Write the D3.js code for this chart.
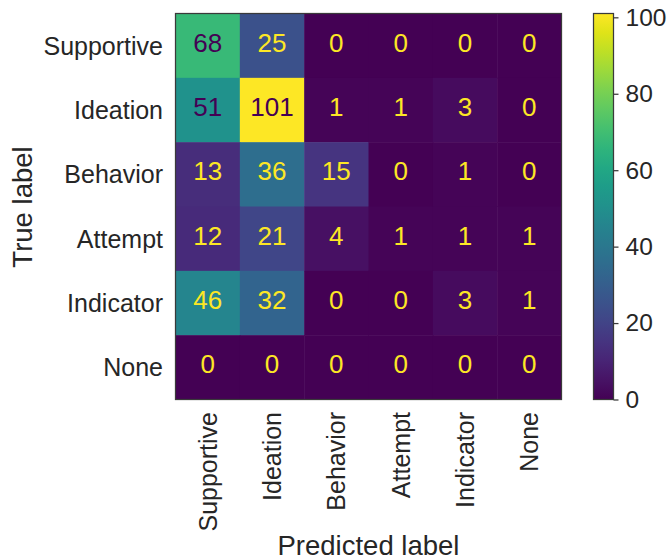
<!DOCTYPE html>
<html>
<head>
<meta charset="utf-8">
<script src="https://cdn.jsdelivr.net/npm/d3@7"></script>
<style>
  body { margin: 0; background: #fff; }
  text { font-family: "Liberation Sans", Arial, sans-serif; fill: #262626; }
</style>
</head>
<body>
<div id="chart"></div>
<script>
// Class labels (rows = true, columns = predicted)
const labels = ["Supportive", "Ideation", "Behavior", "Attempt", "Indicator", "None"];

// Confusion matrix counts, one row per true label
const rowSupportive = [68, 25, 0, 0, 0, 0];
const rowIdeation   = [51, 101, 1, 1, 3, 0];
const rowBehavior   = [13, 36, 15, 0, 1, 0];
const rowAttempt    = [12, 21, 4, 1, 1, 1];
const rowIndicator  = [46, 32, 0, 0, 3, 1];
const rowNone       = [0, 0, 0, 0, 0, 0];

const colorbarTicks = [0, 20, 40, 60, 80, 100];

const matrix = [rowSupportive, rowIdeation, rowBehavior, rowAttempt, rowIndicator, rowNone];

const cells = [];
matrix.forEach((row, i) => row.forEach((v, j) => cells.push({ t: labels[i], p: labels[j], v: v })));

const width = 668, height = 560;
const grid = { left: 175.5, top: 13.5, size: 386 };

const svg = d3.select("#chart")
    .append("svg")
    .attr("width", width)
    .attr("height", height);

// Scales
const x = d3.scaleBand().domain(labels).range([grid.left, grid.left + grid.size]);
const y = d3.scaleBand().domain(labels).range([grid.top, grid.top + grid.size]);

const vmin = d3.min(cells, d => d.v), vmax = d3.max(cells, d => d.v);
const color = d3.scaleSequential(d3.interpolateViridis).domain([vmin, vmax]);
const thresh = (vmin + vmax) / 2;

// Cells
svg.selectAll("rect.cell")
    .data(cells)
    .enter()
    .append("rect")
    .attr("class", "cell")
    .attr("x", d => x(d.p))
    .attr("y", d => y(d.t))
    .attr("width", x.bandwidth() + 0.5)
    .attr("height", y.bandwidth() + 0.5)
    .attr("fill", d => color(d.v));

// Cell values
svg.selectAll("text.val")
    .data(cells)
    .enter()
    .append("text")
    .attr("class", "val")
    .attr("x", d => x(d.p) + x.bandwidth() / 2)
    .attr("y", d => y(d.t) + y.bandwidth() / 2 - 3)
    .attr("text-anchor", "middle")
    .attr("dominant-baseline", "central")
    .style("font-size", "26px")
    .style("fill", d => d.v < thresh ? color(vmax) : color(vmin))
    .text(d => d.v);

// Frame
svg.append("rect")
    .attr("x", grid.left)
    .attr("y", grid.top)
    .attr("width", grid.size)
    .attr("height", grid.size)
    .attr("fill", "none")
    .attr("stroke", "#3a3a3a")
    .attr("stroke-width", 1.25);

// Y tick labels
svg.selectAll("text.ylab")
    .data(labels)
    .enter()
    .append("text")
    .attr("x", grid.left - 12.5)
    .attr("y", d => y(d) + y.bandwidth() / 2)
    .attr("text-anchor", "end")
    .attr("dominant-baseline", "central")
    .style("font-size", "25px")
    .text(d => d);

// X tick labels (rotated)
svg.selectAll("text.xlab")
    .data(labels)
    .enter()
    .append("text")
    .attr("transform", d => `translate(${x(d) + x.bandwidth() / 2}, ${grid.top + grid.size + 12.5}) rotate(-90)`)
    .attr("text-anchor", "end")
    .attr("dominant-baseline", "central")
    .style("font-size", "25px")
    .text(d => d);

// Axis titles
svg.append("text")
    .attr("transform", `translate(32, 207) rotate(-90)`)
    .attr("text-anchor", "middle")
    .style("font-size", "27.5px")
    .text("True label");

svg.append("text")
    .attr("x", grid.left + grid.size / 2)
    .attr("y", 555)
    .attr("text-anchor", "middle")
    .style("font-size", "27.5px")
    .text("Predicted label");

// Colorbar
const cb = { x: 593.5, w: 20 };
const cbScale = d3.scaleLinear().domain([vmin, vmax]).range([grid.top + grid.size, grid.top]);

const defs = svg.append("defs");
const grad = defs.append("linearGradient")
    .attr("id", "cbgrad")
    .attr("x1", 0).attr("y1", 1).attr("x2", 0).attr("y2", 0);
d3.range(0, 1.0001, 0.05).forEach(t => {
    grad.append("stop").attr("offset", t).attr("stop-color", d3.interpolateViridis(t));
});

svg.append("rect")
    .attr("x", cb.x)
    .attr("y", grid.top)
    .attr("width", cb.w)
    .attr("height", grid.size)
    .attr("fill", "url(#cbgrad)")
    .attr("stroke", "#3a3a3a")
    .attr("stroke-width", 1.25);

const cbAxis = svg.append("g")
    .attr("transform", `translate(${cb.x + cb.w}, 0)`)
    .call(d3.axisRight(cbScale).tickValues(colorbarTicks).tickSize(5).tickPadding(7));
cbAxis.select(".domain").remove();
cbAxis.selectAll("line").attr("stroke", "#3a3a3a").attr("stroke-width", 1.25);
cbAxis.selectAll("text")
    .style("font-size", "24.5px")
    .style("font-family", "Liberation Sans, Arial, sans-serif")
    .attr("fill", "#262626");
</script>
</body>
</html>
